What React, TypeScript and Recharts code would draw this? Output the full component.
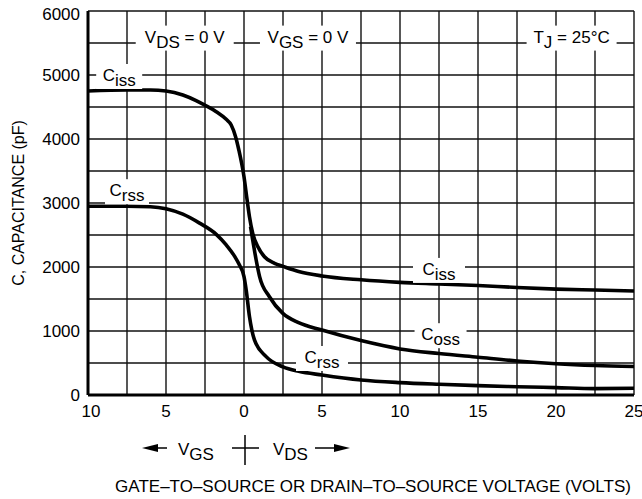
import React from 'react';
import { LineChart, Line, XAxis, YAxis, CartesianGrid, ReferenceDot } from 'recharts';

const FONT = '"Liberation Sans", Arial, Helvetica, sans-serif';

// x axis: negative = V_GS side, positive = V_DS side
const xTicks = [-10, -7.5, -5, -2.5, 0, 2.5, 5, 7.5, 10, 12.5, 15, 17.5, 20, 22.5, 25];
const yTicks = [0, 500, 1000, 1500, 2000, 2500, 3000, 3500, 4000, 4500, 5000, 5500, 6000];

const cissVolts = [-10, -7.5, -6, -5, -3.92, -3.07, -2.53, -1.78, -1.14, -0.82, -0.54, -0.33, 0, 0.2, 0.35, 0.56, 0.89, 1.31, 1.96, 2.5, 3.5, 5, 7.5, 10, 12.5, 15, 17.5, 20, 22.5, 25];
const cissPf = [4750, 4765, 4765, 4750, 4688, 4600, 4531, 4427, 4307, 4219, 4036, 3828, 3410, 3045, 2785, 2525, 2317, 2160, 2057, 2010, 1930, 1860, 1800, 1760, 1735, 1710, 1680, 1655, 1640, 1625];

const cossVolts = [0.42, 0.56, 0.78, 1.0, 1.63, 2.49, 3.5, 5, 7.5, 10, 12.5, 15, 17.5, 20, 22.5, 25];
const cossPf = [2630, 2420, 2110, 1850, 1535, 1275, 1130, 1015, 850, 720, 648, 590, 532, 488, 460, 445];

const crssVolts = [-10, -7.5, -6, -5, -3.92, -2.85, -1.78, -1.14, -0.61, -0.29, 0, 0.14, 0.35, 0.67, 1.42, 2.5, 3.5, 5, 7.5, 10, 12.5, 15, 17.5, 20, 22.5, 25];
const crssPf = [2950, 2950, 2942, 2910, 2825, 2685, 2510, 2345, 2170, 2030, 1850, 1640, 1225, 860, 600, 440, 370, 312, 234, 193, 167, 146, 130, 115, 100, 105];

const zip = (v: number[], c: number[]) => v.map((x, i) => ({ v: x, c: c[i] }));
const ciss = zip(cissVolts, cissPf);
const coss = zip(cossVolts, cossPf);
const crss = zip(crssVolts, crssPf);

// curve / condition labels: [x, y, symbol, subscript, rest, box width]
const notes: [number, number, string, string, string, number][] = [
  [-8, 5000, 'C', 'iss', '', 46],
  [-7.5, 3200, 'C', 'rss', '', 44],
  [-3.8, 5600, 'V', 'DS', ' = 0 V', 98],
  [4.1, 5600, 'V', 'GS', ' = 0 V', 96],
  [21, 5600, 'T', 'J', ' = 25°C', 90],
  [12.5, 1970, 'C', 'iss', '', 52],
  [12.6, 950, 'C', 'oss', '', 52],
  [5, 594, 'C', 'rss', '', 52],
];

function NoteBox(props: any) {
  const { cx, cy, sym, sub, rest, w } = props;
  return (
    <g>
      <rect x={cx - w / 2} y={cy - 11} width={w} height={25} fill="#fff" />
      <text x={cx} y={cy + 6} textAnchor="middle" fontSize={17} fontFamily={FONT} fill="#000">
        <tspan>{sym}</tspan>
        <tspan dy={5}>{sub}</tspan>
        {rest ? <tspan dy={-5}>{rest}</tspan> : null}
      </text>
    </g>
  );
}

function XTick(props: any) {
  const { x, y, payload } = props;
  const v = payload.value as number;
  if (v % 5 !== 0) return null;
  const dx = v === -10 ? 3 : 0;
  return (
    <text x={x + dx} y={y + 11} textAnchor="middle" fontSize={17} fontFamily={FONT} fill="#000">
      {Math.abs(v)}
    </text>
  );
}

function YTick(props: any) {
  const { x, y, payload } = props;
  const v = payload.value as number;
  if (v % 1000 !== 0) return null;
  const dy = v === 6000 ? 3 : 0;
  return (
    <text x={x} y={y + dy + 6} textAnchor="end" fontSize={17} fontFamily={FONT} fill="#000">
      {v}
    </text>
  );
}

function YTitle(props: any) {
  const vb = props.viewBox || {};
  const x = 18;
  const y = vb.y + vb.height / 2;
  return (
    <text x={x} y={y} transform={`rotate(-90, ${x}, ${y})`} textAnchor="middle" dominantBaseline="central"
      fontSize={16} fontFamily={FONT} fill="#000">
      C, CAPACITANCE (pF)
    </text>
  );
}

function XTitle(props: any) {
  const vb = props.viewBox || {};
  const x = vb.x + vb.width / 2 + 12;
  return (
    <text x={x} y={492} textAnchor="middle" fontSize={17} fontFamily={FONT} fill="#000">
      GATE–TO–SOURCE OR DRAIN–TO–SOURCE VOLTAGE (VOLTS)
    </text>
  );
}

export default function App() {
  return (
    <div style={{ position: 'relative', width: 642, height: 499, overflow: 'hidden' }}>
      <style>{'body{margin:0}'}</style>
      <LineChart width={642} height={499} margin={{ top: 11, right: 8, left: 0, bottom: 4 }}>
        <CartesianGrid stroke="#111" strokeWidth={1.4} />
        <XAxis
          dataKey="v"
          type="number"
          domain={[-10, 25]}
          ticks={xTicks}
          interval={0}
          tick={XTick}
          tickLine={false}
          tickMargin={5}
          axisLine={{ stroke: '#000', strokeWidth: 3 }}
          height={100}
          label={{ content: XTitle }}
        />
        <YAxis
          type="number"
          domain={[0, 6000]}
          ticks={yTicks}
          interval={0}
          tick={YTick}
          tickLine={false}
          axisLine={{ stroke: '#000', strokeWidth: 3 }}
          width={88}
          label={{ content: YTitle }}
        />
        {notes.map(([x, y, sym, sub, rest, w], i) => (
          <ReferenceDot
            key={i}
            x={x}
            y={y}
            r={1}
            shape={(p: any) => <NoteBox {...p} sym={sym} sub={sub} rest={rest} w={w} />}
          />
        ))}
        <Line data={ciss} dataKey="c" type="monotone" stroke="#000" strokeWidth={3.6} dot={false} isAnimationActive={false} />
        <Line data={coss} dataKey="c" type="monotone" stroke="#000" strokeWidth={3.6} dot={false} isAnimationActive={false} />
        <Line data={crss} dataKey="c" type="monotone" stroke="#000" strokeWidth={3.6} dot={false} isAnimationActive={false} />
      </LineChart>
      <svg width={642} height={499} style={{ position: 'absolute', left: 0, top: 0, pointerEvents: 'none' }}>
        <g fontFamily={FONT} fontSize={17} fill="#000">
          <line x1={154} y1={448} x2={167} y2={448} stroke="#000" strokeWidth={1.5} />
          <polygon points="142,448 158,444 158,452" fill="#000" />
          <text x={178} y={455}>
            <tspan>V</tspan>
            <tspan dy={5}>GS</tspan>
          </text>
          <line x1={245} y1={435} x2={245} y2={465} stroke="#000" strokeWidth={1.5} />
          <line x1={232} y1={448} x2={259} y2={448} stroke="#000" strokeWidth={1.5} />
          <text x={273} y={455}>
            <tspan>V</tspan>
            <tspan dy={5}>DS</tspan>
          </text>
          <line x1={315} y1={448} x2={338} y2={448} stroke="#000" strokeWidth={1.5} />
          <polygon points="350,448 334,444 334,452" fill="#000" />
        </g>
      </svg>
    </div>
  );
}
